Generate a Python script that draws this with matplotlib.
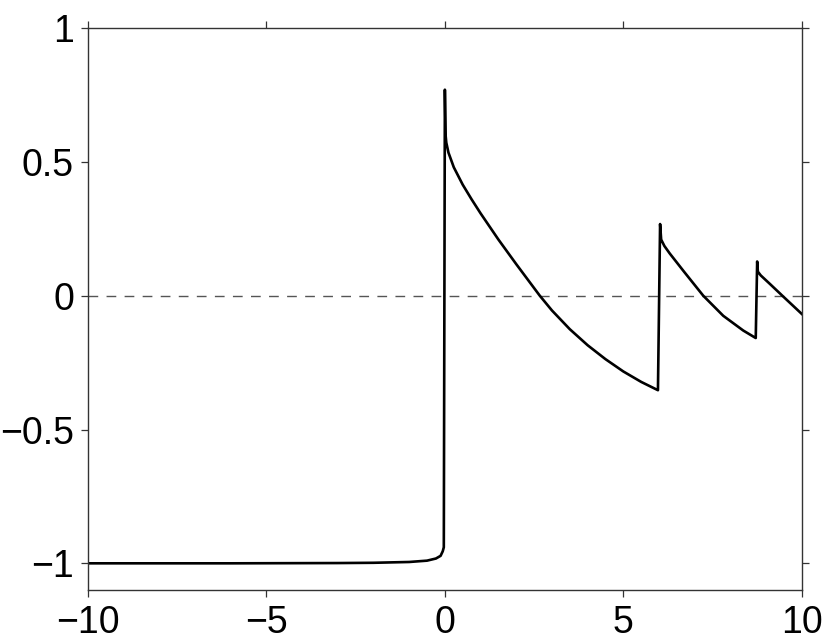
import matplotlib
matplotlib.use("Agg")
import matplotlib.pyplot as plt

plt.rcParams["font.family"] = ["Liberation Sans", "DejaVu Sans"]

# curve, (x, y) pairs
x_vals = [-10.0, -6.0, -3.0, -2.0, -1.0, -0.5, -0.25, -0.12, -0.06, -0.03,
          0.0, 0.02, 0.04, 0.1, 0.25, 0.5, 0.75, 1.0, 1.5, 2.0,
          2.66, 3.0, 3.5, 4.0, 4.5, 5.0, 5.5, 5.97,
          6.03, 6.06, 6.15, 6.30, 6.70, 7.24, 7.80, 8.36, 8.71,
          8.75, 8.77, 8.85, 9.10, 9.48, 10.0]
y_vals = [-1.0, -1.0, -0.999, -0.998, -0.995, -0.99, -0.982, -0.972, -0.955, -0.94,
          0.77, 0.60, 0.572, 0.535, 0.48, 0.415, 0.36, 0.308, 0.21, 0.118,
          0.0, -0.055, -0.125, -0.185, -0.237, -0.283, -0.322, -0.353,
          0.268, 0.21, 0.186, 0.158, 0.09, 0.0, -0.075, -0.13, -0.158,
          0.128, 0.09, 0.076, 0.045, -0.003, -0.068]

x_ticks = [-10, -5, 0, 5, 10]
y_ticks = [-1, -0.5, 0, 0.5, 1]
y_tick_labels = ["\u22121", "\u22120.5", "0", "0.5", "1"]
x_tick_labels = ["\u221210", "\u22125", "0", "5", "10"]

fig = plt.figure(figsize=(8.3, 6.4), dpi=100)
ax = fig.add_axes([0.106, 0.078, 0.860, 0.878])

ax.plot([-10, 10.22], [0, 0], color="#555555", lw=1.0, dashes=(7, 6), clip_on=False)
ax.plot(x_vals, y_vals, color="black", lw=1.9)

ax.set_xlim(-10, 10)
ax.set_ylim(-1.1, 1.0)
ax.set_xticks(x_ticks)
ax.set_xticklabels(x_tick_labels)
ax.set_yticks(y_ticks)
ax.set_yticklabels(y_tick_labels)

for s in ax.spines.values():
    s.set_color("#333333")
    s.set_linewidth(1.0)
ax.tick_params(direction="out", length=5, width=0.9, color="#333333",
               labelsize=27, pad=5, top=True, right=True)
ax.tick_params(axis="x", pad=6)

fig.savefig("out.png", dpi=100)
